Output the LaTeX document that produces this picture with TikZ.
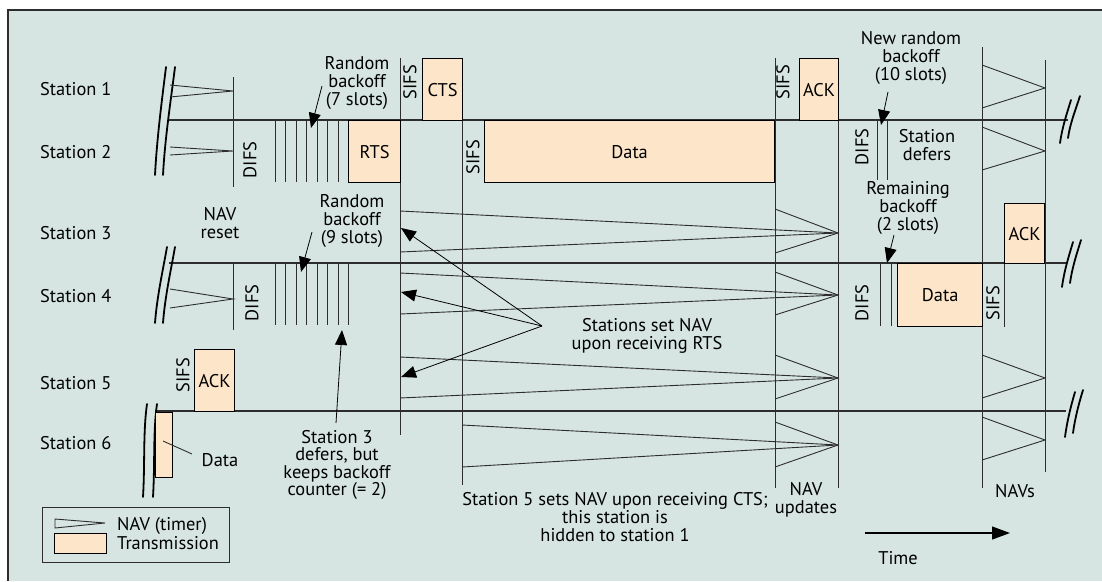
\documentclass[tikz,border=0pt]{standalone}
\usepackage{fontspec}
\setmainfont{PT Sans}
\usetikzlibrary{arrows.meta}
\definecolor{panel}{RGB}{214,229,225}
\definecolor{txfill}{RGB}{253,229,201}
\definecolor{ink}{RGB}{45,45,45}
\begin{document}
\begin{tikzpicture}[x=1pt,y=-1pt,
  lbl/.style={font=\fontsize{18.4}{17.6}\selectfont, align=center, inner sep=0pt, text=black},
  rot/.style={lbl, rotate=90},
  tl/.style={line width=1.4pt, draw=ink},
  thin/.style={line width=0.9pt, draw=ink},
  nav/.style={line width=0.9pt, draw=ink, line join=miter},
  brk/.style={line width=1.8pt, draw=black, line cap=round},
  tx/.style={lbl, draw=black, line width=1.2pt, fill=txfill, anchor=north west},
  ann/.style={line width=0.8pt, draw=black, -{Triangle[length=15pt,width=12pt]}},
]
\useasboundingbox (0,0) rectangle (1102,581);
\fill[white] (0,0) rectangle (1102,581);
\fill[panel] (8,10) rectangle (1102,581);
\draw[line width=1.2pt, ink] (8,581) -- (8,10) -- (1102,10);

% station names
\foreach \n/\y in {1/89,2/152,3/233,4/296,5/383,6/443}
  \node[lbl, anchor=west] (st\n) at (40,\y) {Station \n};

% time lines
\draw[tl] (169,120) -- (1068,120);
\draw[tl] (169,263) -- (1066,263);
\draw[tl] (155,411) -- (1066,411);

% break marks
\foreach \xa/\ya/\xb/\yb in {166/67/155/175, 175/67/163/175,
                             167/247/155/323, 175/247/163/323,
                             147/404/143/497, 157/404/153/497,
                             1071/100/1060/143, 1080/96/1068/138,
                             1073/242/1062/287, 1081/240/1070/283,
                             1075/392/1065/437, 1083/390/1073/433}
  \draw[brk] (\xa,\ya) .. controls (\xa-4,{\ya+0.3*(\yb-\ya)}) and (\xb+2,{\yb-0.35*(\yb-\ya)}) .. (\xb,\yb);

% vertical event lines
\draw[thin] (233,77) -- (233,187);
\draw[thin] (233,263) -- (233,330);
\draw[thin] (400,58) -- (400,435);
\draw[thin] (462,58) -- (462,485);
\draw[thin] (775,58) -- (775,488);
\draw[thin] (838,58) -- (838,488);
\draw[thin] (982,47) -- (982,488);
\draw[thin] (1045,60) -- (1045,472);
\draw[thin] (1004,263) -- (1004,327);

% backoff slots
\foreach \i in {0,...,6}
  \draw[thin] ({275+10.5*\i},120) -- ({275+10.5*\i},182);
\foreach \i in {0,...,7}
  \draw[thin] ({275+10.5*\i},263) -- ({275+10.5*\i},325);
\draw[thin] (877,120) -- (877,180);
\draw[thin] (887,120) -- (887,180);
\draw[thin] (880,263) -- (880,326);
\draw[thin] (891,263) -- (891,326);

% transmissions
\node[tx, minimum width=52, minimum height=62] (rts) at (348,120) {RTS};
\node[tx, minimum width=40, minimum height=62] (cts) at (422,58) {CTS};
\node[tx, minimum width=290, minimum height=62] (data2) at (484,120) {Data};
\node[tx, minimum width=39, minimum height=62] (ack1) at (799,58) {ACK};
\node[tx, minimum width=40, minimum height=60] (ack3) at (1004,203) {ACK};
\node[tx, minimum width=85, minimum height=63] (data4) at (897,263) {Data};
\node[tx, minimum width=40, minimum height=62] (ack5) at (194,349) {ACK};
\node[tx, minimum width=17, minimum height=65] (data6) at (155,412) {};

% NAV timers
\draw[nav] (170,85) -- (233,91) -- (170,97);
\draw[nav] (170,147) -- (233,151) -- (170,155);
\draw[nav] (170,289) -- (233,299) -- (170,308);
\draw[nav] (400,211) -- (838,233) -- (400,252);
\draw[nav] (775,209) -- (838,233) -- (775,253);
\draw[nav] (400,273) -- (838,295) -- (400,314);
\draw[nav] (775,272) -- (838,295) -- (775,315);
\draw[nav] (400,357) -- (838,378) -- (400,398);
\draw[nav] (775,355) -- (838,378) -- (775,399);
\draw[nav] (462,425) -- (838,445) -- (462,467);
\draw[nav] (775,422) -- (838,445) -- (775,467);
\draw[nav] (982,65) -- (1045,88) -- (982,108);
\draw[nav] (982,127) -- (1045,151) -- (982,170);
\draw[nav] (982,355) -- (1045,378) -- (982,398);
\draw[nav] (982,417) -- (1045,440) -- (982,460);

% interframe spaces
\node[rot] (difs2) at (250,160) {DIFS};
\node[rot] (difs4) at (252,303) {DIFS};
\node[rot] (sifs1) at (410,82) {SIFS};
\node[rot] (sifs2) at (473,157) {SIFS};
\node[rot] (sifs1b) at (783,82) {SIFS};
\node[rot] (difs2b) at (862,147) {DIFS};
\node[rot] (difs4b) at (862,303) {DIFS};
\node[rot] (sifs4) at (993,303) {SIFS};
\node[rot] (sifs5) at (183,375) {SIFS};

% annotations
\node[lbl] (bo7) at (357,83) {Random\\backoff\\(7 slots)};
\node[lbl] (bo9) at (352,221) {Random\\backoff\\(9 slots)};
\node[lbl] (navreset) at (220,223) {NAV\\reset};
\node[lbl] (bo10) at (911,58) {New random\\backoff\\(10 slots)};
\node[lbl] (defers) at (927,145) {Station\\defers};
\node[lbl] (bo2) at (908,208) {Remaining\\backoff\\(2 slots)};
\node[lbl] (setnav) at (647,336) {Stations set NAV\\upon receiving RTS};
\node[lbl] (keeps) at (337,465) {Station 3\\defers, but\\keeps backoff\\counter (= 2)};
\node[lbl] (hidden) at (615,517) {Station 5 sets NAV upon receiving CTS;\\this station is\\hidden to station 1};
\node[lbl] (updates) at (806,500) {NAV\\updates};
\node[lbl] (navs) at (1015,491) {NAVs};
\node[lbl] (time) at (898,558) {Time};
\node[lbl] (d6lbl) at (220,460) {Data};

\coordinate (t7a) at (322,86);   \coordinate (t7b) at (311,128);
\coordinate (t9a) at (312,232);  \coordinate (t9b) at (301,272);
\coordinate (t10a) at (888,92);  \coordinate (t10b) at (881,125);
\coordinate (t2a) at (894,235);  \coordinate (t2b) at (887,263);
\coordinate (tka) at (336,423);  \coordinate (tkb) at (342,330);
\coordinate (fan) at (542,326);
\coordinate (f3) at (401,228);
\coordinate (f4) at (401,292);
\coordinate (f5) at (401,377);
\coordinate (d6a) at (163,441);  \coordinate (d6b) at (192,454);

\draw[ann] (t7a) -- (t7b);
\draw[ann] (t9a) -- (t9b);
\draw[ann] (t10a) -- (t10b);
\draw[ann] (t2a) -- (t2b);
\draw[ann] (tka) -- (tkb);
\draw[ann] (fan) -- (f3);
\draw[ann] (fan) -- (f4);
\draw[ann] (fan) -- (f5);
\draw[thin] (d6a) -- (d6b);

% time axis
\coordinate (ta) at (865,533);
\coordinate (tb) at (1010,533);
\draw[line width=1.2pt, -{Triangle[length=18pt,width=13pt]}] (ta) -- (tb);

% legend
\node[draw=ink, line width=1pt, fill=panel, minimum width=187, minimum height=55, anchor=north west, inner sep=0pt] (legend) at (42,507) {};
\draw[nav] (55,519) -- (105,523) -- (55,528) -- cycle;
\node[draw=black, line width=1pt, fill=txfill, minimum width=52, minimum height=20, anchor=north west, inner sep=0pt] (legtx) at (54,533) {};
\node[lbl, anchor=west] (legnav) at (117,526) {NAV (timer)};
\node[lbl, anchor=west] (legtxt) at (117,543) {Transmission};
\end{tikzpicture}
\end{document}
